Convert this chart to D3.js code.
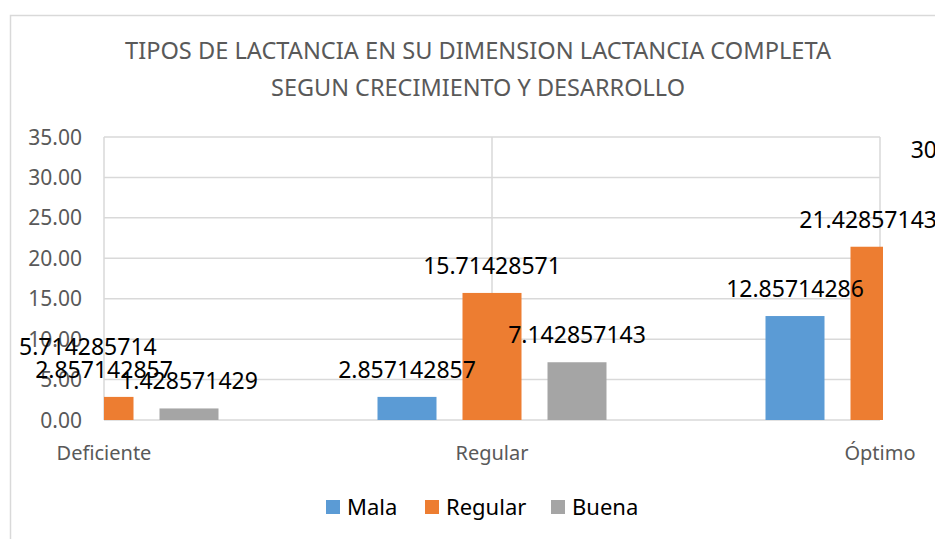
<!DOCTYPE html>
<html>
<head>
<meta charset="utf-8">
<script src="https://cdn.jsdelivr.net/npm/d3@7"></script>
<style>
  body { margin: 0; background: #fff; }
  svg { display: block; font-family: "Noto Sans", "Open Sans", sans-serif; }
</style>
</head>
<body>
<script>
const categories = ["Deficiente", "Regular", "Óptimo"];
const series = ["Mala", "Regular", "Buena"];
const colors = ["#5B9BD5", "#ED7D31", "#A5A5A5"];
// one array per series, in category order
const mala = [5.714285714, 2.857142857, 12.85714286];
const regular = [2.857142857, 15.71428571, 21.42857143];
const buena = [1.428571429, 7.142857143, 30];
const yTicks = [0, 5, 10, 15, 20, 25, 30, 35];
const titleLines = ["TIPOS DE LACTANCIA EN SU DIMENSION LACTANCIA COMPLETA", "SEGUN CRECIMIENTO Y DESARROLLO"];

const W = 935, H = 539;
const plot = { left: 104, right: 880, top: 137, bottom: 420 };

const svg = d3.select("body").append("svg")
  .attr("width", W).attr("height", H);

// chart area border
svg.append("rect")
  .attr("x", 10.5).attr("y", 15.5).attr("width", 1000).attr("height", 600)
  .attr("fill", "#fff").attr("stroke", "#d9d9d9").attr("stroke-width", 1.5);

// title
svg.append("g").selectAll("text")
  .data(titleLines)
  .join("text")
  .attr("x", 478).attr("y", (d, i) => 59 + i * 37)
  .attr("text-anchor", "middle")
  .attr("fill", "#595959")
  .style("font-size", "24px")
  .attr("textLength", (d, i) => i === 0 ? 706 : 414)
  .attr("lengthAdjust", "spacingAndGlyphs")
  .text(d => d);

const x = d3.scalePoint().domain(categories).range([plot.left, plot.right]);
const xs = d3.scaleBand().domain(series).range([-114.5, 114.5]).paddingInner(26 / 85);
const y = d3.scaleLinear().domain([0, 35]).range([plot.bottom, plot.top]);

// gridlines
svg.append("g").selectAll("line")
  .data(yTicks)
  .join("line")
  .attr("x1", plot.left).attr("x2", plot.right)
  .attr("y1", d => y(d)).attr("y2", d => y(d))
  .attr("stroke", "#d9d9d9").attr("stroke-width", 1.5);

svg.append("g").selectAll("line")
  .data(categories)
  .join("line")
  .attr("x1", d => x(d)).attr("x2", d => x(d))
  .attr("y1", plot.top).attr("y2", plot.bottom)
  .attr("stroke", "#d9d9d9").attr("stroke-width", 1.5);

// y tick labels
svg.append("g").selectAll("text")
  .data(yTicks)
  .join("text")
  .attr("x", 82).attr("y", d => y(d))
  .attr("dy", "0.36em")
  .attr("text-anchor", "end")
  .attr("fill", "#595959")
  .style("font-size", "21px")
  .text(d => d3.format(".2f")(d));

// category labels
svg.append("g").selectAll("text")
  .data(categories)
  .join("text")
  .attr("x", d => x(d)).attr("y", 460)
  .attr("text-anchor", "middle")
  .attr("fill", "#595959")
  .style("font-size", "20px")
  .text(d => d);

const values = [mala, regular, buena];
const bars = [];
series.forEach((s, si) => {
  categories.forEach((c, ci) => {
    bars.push({ s, si, c, v: values[si][ci] });
  });
});

svg.append("clipPath").attr("id", "plotclip")
  .append("rect")
  .attr("x", plot.left).attr("y", 0)
  .attr("width", plot.right - plot.left + 3).attr("height", H);

svg.append("g").attr("clip-path", "url(#plotclip)")
  .selectAll("rect")
  .data(bars)
  .join("rect")
  .attr("x", d => x(d.c) + xs(d.s))
  .attr("width", xs.bandwidth())
  .attr("y", d => y(d.v))
  .attr("height", d => y(0) - y(d.v))
  .attr("fill", d => colors[d.si]);

// data labels, kept inside chart area
const lbl = svg.append("g").selectAll("text")
  .data(bars)
  .join("text")
  .attr("y", d => y(d.v) - 19)
  .attr("text-anchor", "start")
  .attr("fill", "#000")
  .style("font-size", "23px")
  .text(d => String(d.v));

lbl.each(function (d) {
  const w = this.getComputedTextLength();
  let x0 = x(d.c) + xs(d.s) + xs.bandwidth() / 2 - w / 2;
  x0 = Math.max(19, Math.min(937 - w, x0));
  d3.select(this).attr("x", x0);
});

// legend
const legend = svg.append("g").attr("transform", "translate(326,507)");
const legX = [0, 99, 225];
series.forEach((s, i) => {
  legend.append("rect")
    .attr("x", legX[i]).attr("y", -7)
    .attr("width", 14).attr("height", 14)
    .attr("fill", colors[i]);
  legend.append("text")
    .attr("x", legX[i] + 21).attr("y", 0)
    .attr("dy", "0.36em")
    .attr("fill", "#000")
    .style("font-size", "22px")
    .text(s);
});
</script>
</body>
</html>
